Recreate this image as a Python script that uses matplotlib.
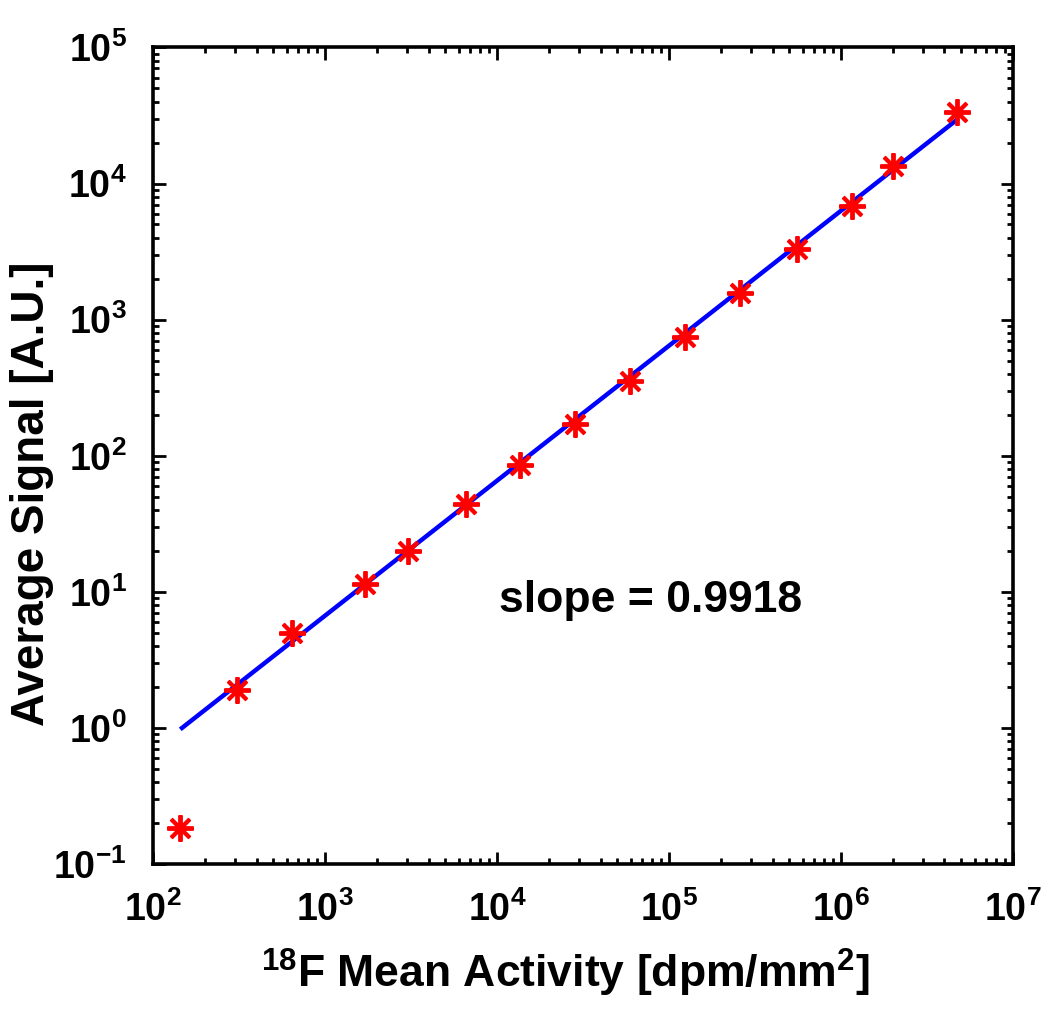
import matplotlib.pyplot as plt
import numpy as np

plt.rcParams['font.family'] = 'Liberation Sans'
plt.rcParams['font.weight'] = 'bold'
plt.rcParams['mathtext.fontset'] = 'custom'
plt.rcParams['mathtext.rm'] = 'Liberation Sans:bold'
plt.rcParams['mathtext.it'] = 'Liberation Sans:bold'
plt.rcParams['mathtext.bf'] = 'Liberation Sans:bold'

# measured points
activity = [143.5, 308, 643, 1710, 3040, 6610, 13600, 28400, 59300,
            124000, 259000, 555000, 1.16e6, 2.0e6, 4.72e6]
signal = [0.184, 1.90, 5.0, 11.5, 20.0, 44.4, 86, 172, 356,
          750, 1580, 3330, 6780, 13550, 33300]

# power law fit  y = 10**intercept * x**slope
slope = 0.9918
intercept = -2.151
fit_start = 147.5

fig = plt.figure(figsize=(10.5, 10.17), dpi=100)
ax = fig.add_axes([0.1457, 0.1504, 0.819, 0.803])

xf = np.array([fit_start, activity[-1]])
yf = 10 ** intercept * xf ** slope
ax.plot(xf, yf, color='#0000ff', lw=3.2, zorder=2)
ax.plot(activity, signal, ls='none', marker=(8, 2, 0), ms=19, mew=2.8,
        color='#ff0000', zorder=3)

ax.set_xscale('log')
ax.set_yscale('log')
ax.set_xlim(1e2, 1e7)
ax.set_ylim(1e-1, 1e5)

ax.text(78500, 8.7, 'slope = %.4f' % slope, ha='center', va='center',
        fontsize=32, fontweight='bold')

ax.set_xlabel('$^{18}$F Mean Activity [dpm/mm$^2$]', fontsize=32, fontweight='bold')
ax.set_ylabel('Average Signal [A.U.]', fontsize=33, fontweight='bold')
ax.xaxis.set_label_coords(0.48, -0.101)
ax.yaxis.set_label_coords(-0.115, 0.453)

for s in ax.spines.values():
    s.set_linewidth(2.6)
ax.tick_params(which='both', direction='in', top=True, right=True,
               labelsize=27, width=2)
ax.tick_params(which='major', length=9)
ax.tick_params(which='minor', length=4)
ax.tick_params(axis='x', which='major', pad=20)
ax.tick_params(axis='y', which='major', pad=19)

fig.savefig('out.png', dpi=100)
